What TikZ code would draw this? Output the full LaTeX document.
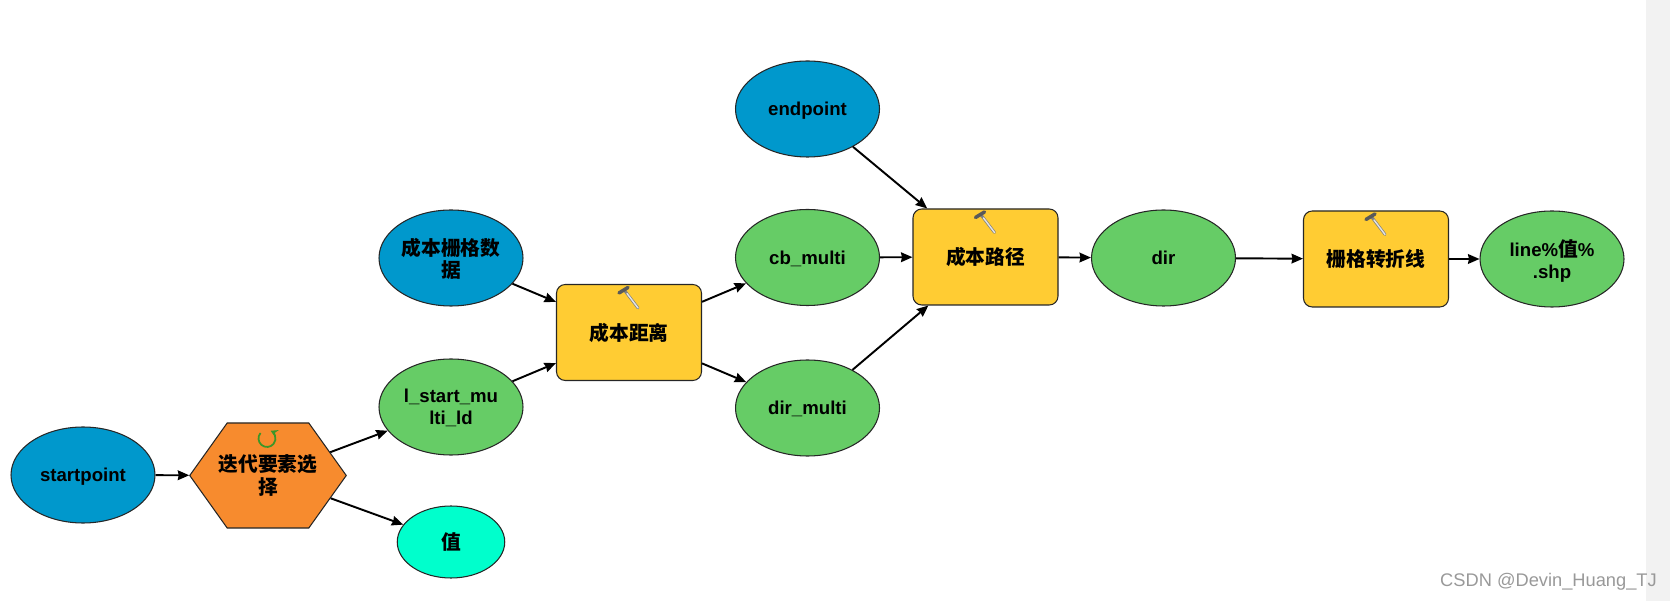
\documentclass[tikz,border=0pt]{standalone}
\usepackage{fontspec}
\setmainfont{Liberation Sans}
\newfontfamily\cjk[Scale=1.06]{Noto Sans CJK SC}
\usetikzlibrary{arrows.meta,shapes.geometric,shapes.symbols}
\newcommand{\hexline}[1]{\makebox[1.63cm]{\cjk #1}}

\begin{document}
\begin{tikzpicture}[
    >={Stealth[length=6.5pt, width=5.5pt, inset=0.5pt]},
    flow/.style={->, line width=1.1pt, black},
    box/.style={draw=black!85, line width=0.6pt, align=center, inner sep=0pt,
      font=\bfseries\fontsize{10.6}{12.6}\selectfont},
    data/.style={box, ellipse, text depth=0pt, minimum width=2.88cm, minimum height=1.92cm},
    input/.style={data, fill=inblue},
    derived/.style={data, fill=outgreen},
    tool/.style={box, rectangle, rounded corners=5pt, fill=toolyellow, minimum width=2.9cm, minimum height=1.92cm},
    hammerhandle/.style={line width=1.6pt, draw=black!50, line cap=round},
    hammerlight/.style={line width=0.8pt, draw=white!90!black, line cap=round},
    hammerhead/.style={line width=2pt, draw=black!65, line cap=round}
  ]
  \definecolor{inblue}{RGB}{0,152,204}
  \definecolor{outgreen}{RGB}{102,204,102}
  \definecolor{toolyellow}{RGB}{255,204,51}
  \definecolor{iterorange}{RGB}{247,139,46}
  \definecolor{valcyan}{RGB}{0,255,204}
  \definecolor{loopgreen}{RGB}{60,150,40}

  \useasboundingbox (0,0) rectangle (33.4,-12.02);

  % Fascia a destra
  \fill[black!5] (32.92,0) rectangle (33.4,-12.02);

  % Dati
  \node[input] (startpoint) at (1.66,-9.50) {startpoint};
  \node[input] (rastercost) at (9.02,-5.16) {\cjk 成本栅格数\\\cjk 据};
  \node[input] (endpoint) at (16.15,-2.18) {endpoint};
  \node[derived] (lstart) at (9.02,-8.14) {l\_start\_mu\\lti\_ld};
  \node[box, ellipse, fill=valcyan, minimum width=2.15cm, minimum height=1.44cm] (value) at (9.02,-10.84) {\cjk 值};
  \node[derived] (cbmulti) at (16.15,-5.15) {cb\_multi};
  \node[derived] (dirmulti) at (16.15,-8.16) {dir\_multi};
  \node[derived] (dir) at (23.27,-5.16) {dir};
  \node[derived] (lineshp) at (31.04,-5.18) {line\%{\cjk 值}\%\\.shp};

  % Strumenti
  \node[box, signal, signal to=east and west, signal pointer angle=109, fill=iterorange,
    minimum width=3.13cm, minimum height=2.1cm] (iterate) at (5.36,-9.51) {\hexline{迭代要素选}\\\hexline{择}};
  \node[tool] (distance) at (12.58,-6.65) {\cjk 成本距离};
  \node[tool] (route) at (19.71,-5.14) {\cjk 成本路径};
  \node[tool] (convert) at (27.52,-5.18) {\cjk 栅格转折线};

  % Icone
  \foreach \n in {distance,route,convert} {
    \draw[hammerhandle] ([shift={(-0.08,-0.14)}]\n.north) -- ([shift={(0.18,-0.48)}]\n.north);
    \draw[hammerlight] ([shift={(-0.04,-0.19)}]\n.north) -- ([shift={(0.18,-0.48)}]\n.north);
    \draw[hammerhead] ([shift={(-0.2,-0.18)}]\n.north) -- ([shift={(-0.02,-0.07)}]\n.north);
  }
  \draw[loopgreen, line width=1pt, -{Stealth[length=4pt, width=4.5pt]}]
    ([shift={(-0.15,0.85)}]iterate.center) arc[start angle=140, end angle=425, radius=0.17];

  % Frecce
  \draw[flow] (startpoint) -- (iterate);
  \draw[flow] (iterate) -- (lstart);
  \draw[flow] (iterate) -- (value);
  \draw[flow] (rastercost) -- (distance);
  \draw[flow] (lstart) -- (distance);
  \draw[flow] (distance) -- (cbmulti);
  \draw[flow] (distance) -- (dirmulti);
  \draw[flow] (endpoint) -- (route);
  \draw[flow] (cbmulti) -- (route);
  \draw[flow] (dirmulti) -- (route);
  \draw[flow] (route) -- (dir);
  \draw[flow] (dir) -- (convert);
  \draw[flow] (convert) -- (lineshp);

  % Filigrana
  \node[black!40, font=\fontsize{10.4}{12}\selectfont, inner sep=0pt] (mark) at (30.97,-11.64) {CSDN @Devin\_Huang\_TJ};

\end{tikzpicture}
\end{document}
